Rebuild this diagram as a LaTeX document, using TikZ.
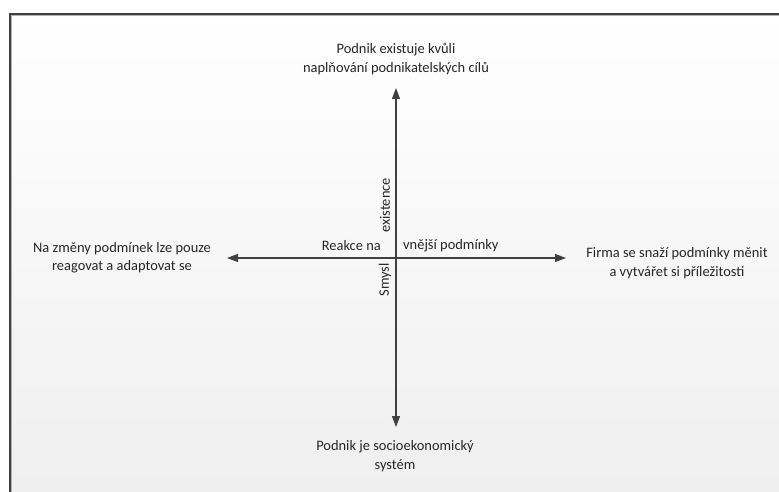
\documentclass[tikz,border=0pt]{standalone}
\usepackage{fontspec}
\setmainfont{Carlito}
\usetikzlibrary{arrows.meta}
\definecolor{axisgray}{HTML}{404040}
\definecolor{txtgray}{HTML}{262626}
\definecolor{bgbottom}{HTML}{EFEFEF}
\begin{document}
\begin{tikzpicture}[x=1bp,y=-1bp,
  axis/.style={draw=axisgray, line width=1.1bp, -{Triangle[length=11bp,width=8bp]}},
  pole/.style={align=center, font=\fontsize{14.5}{18.5}\selectfont, text=txtgray, inner sep=0pt},
  tag/.style={font=\fontsize{14.5}{18.5}\selectfont, text=txtgray, inner sep=0pt}]
  \useasboundingbox (0,0) rectangle (779,492);
  \fill[white] (0,0) rectangle (779,492);
  % shaded panel with its top and left frame lines
  \shade[top color=white, bottom color=bgbottom] (10,14) rectangle (779,492);
  \draw[axisgray, line width=1.6bp] (10,492) -- (10,14) -- (779,14);
  \draw[gray!60, line width=0.8bp] (11.3,492) -- (11.3,15.3) -- (779,15.3);

  % axis ends
  \coordinate (c) at (396,258);
  \coordinate (t) at (396,88);
  \coordinate (b) at (396,427);
  \coordinate (l) at (227,258);
  \coordinate (r) at (566,258);

  \draw[axis] (c) -- (t);
  \draw[axis] (c) -- (b);
  \draw[axis] (c) -- (l);
  \draw[axis] (c) -- (r);

  % pole captions
  \node[pole] (top) at (396,59) {Podnik existuje kvůli\\naplňování podnikatelských cílů};
  \node[pole] (bot) at (395,456) {Podnik je socioekonomický\\systém};
  \node[pole] (lft) at (122,258) {Na změny podmínek lze pouze\\reagovat a adaptovat se};
  \node[pole] (rgt) at (677,263) {Firma se snaží podmínky měnit\\a vytvářet si příležitosti};

  % axis labels
  \node[tag, anchor=east] (re) at (381,246) {Reakce na};
  \node[tag, anchor=west] (vn) at (403,246) {vnější podmínky};
  \node[tag, rotate=90, anchor=west] (ex) at (385,233) {existence};
  \node[tag, rotate=90, anchor=east] (sm) at (385,263) {Smysl};
\end{tikzpicture}
\end{document}
